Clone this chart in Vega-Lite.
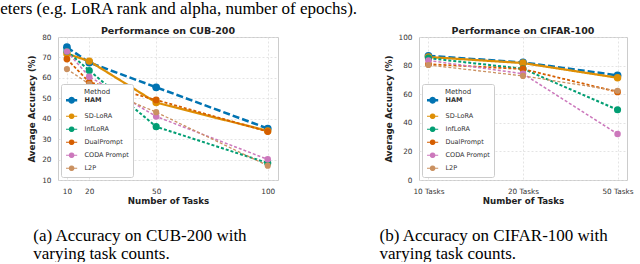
{
  "$schema": "https://vega.github.io/schema/vega-lite/v6.json",
  "padding": {"left": 0, "top": 0, "right": 0, "bottom": 0},
  "background": "white",
  "title": {"text": "eters (e.g. LoRA rank and alpha, number of epochs).", "anchor": "start", "dx": -27, "font": "Liberation Serif", "fontSize": 17, "fontWeight": "normal", "color": "black", "offset": 7},
  "datasets": {
    "cub": [
      {"Method": "HAM", "Tasks": 10, "Acc": 75.0}, {"Method": "HAM", "Tasks": 20, "Acc": 67.5}, {"Method": "HAM", "Tasks": 50, "Acc": 55.4}, {"Method": "HAM", "Tasks": 100, "Acc": 35.2},
      {"Method": "SD-LoRA", "Tasks": 10, "Acc": 71.8}, {"Method": "SD-LoRA", "Tasks": 20, "Acc": 68.2}, {"Method": "SD-LoRA", "Tasks": 50, "Acc": 47.9}, {"Method": "SD-LoRA", "Tasks": 100, "Acc": 34.0},
      {"Method": "InfLoRA", "Tasks": 10, "Acc": 73.0}, {"Method": "InfLoRA", "Tasks": 20, "Acc": 63.6}, {"Method": "InfLoRA", "Tasks": 50, "Acc": 36.1}, {"Method": "InfLoRA", "Tasks": 100, "Acc": 18.3},
      {"Method": "DualPrompt", "Tasks": 10, "Acc": 69.2}, {"Method": "DualPrompt", "Tasks": 20, "Acc": 57.9}, {"Method": "DualPrompt", "Tasks": 50, "Acc": 49.2}, {"Method": "DualPrompt", "Tasks": 100, "Acc": 33.7},
      {"Method": "CODA Prompt", "Tasks": 10, "Acc": 72.9}, {"Method": "CODA Prompt", "Tasks": 20, "Acc": 60.6}, {"Method": "CODA Prompt", "Tasks": 50, "Acc": 41.1}, {"Method": "CODA Prompt", "Tasks": 100, "Acc": 20.1},
      {"Method": "L2P", "Tasks": 10, "Acc": 64.3}, {"Method": "L2P", "Tasks": 20, "Acc": 57.0}, {"Method": "L2P", "Tasks": 50, "Acc": 43.2}, {"Method": "L2P", "Tasks": 100, "Acc": 17.0}
    ],
    "cifar": [
      {"Method": "HAM", "Tasks": "10 Tasks", "Acc": 86.8}, {"Method": "HAM", "Tasks": "20 Tasks", "Acc": 82.2}, {"Method": "HAM", "Tasks": "50 Tasks", "Acc": 73.2},
      {"Method": "SD-LoRA", "Tasks": "10 Tasks", "Acc": 86.0}, {"Method": "SD-LoRA", "Tasks": "20 Tasks", "Acc": 81.8}, {"Method": "SD-LoRA", "Tasks": "50 Tasks", "Acc": 71.5},
      {"Method": "InfLoRA", "Tasks": "10 Tasks", "Acc": 85.2}, {"Method": "InfLoRA", "Tasks": "20 Tasks", "Acc": 77.8}, {"Method": "InfLoRA", "Tasks": "50 Tasks", "Acc": 49.1},
      {"Method": "DualPrompt", "Tasks": "10 Tasks", "Acc": 81.0}, {"Method": "DualPrompt", "Tasks": "20 Tasks", "Acc": 77.6}, {"Method": "DualPrompt", "Tasks": "50 Tasks", "Acc": 61.6},
      {"Method": "CODA Prompt", "Tasks": "10 Tasks", "Acc": 83.6}, {"Method": "CODA Prompt", "Tasks": "20 Tasks", "Acc": 74.3}, {"Method": "CODA Prompt", "Tasks": "50 Tasks", "Acc": 32.2},
      {"Method": "L2P", "Tasks": "10 Tasks", "Acc": 80.4}, {"Method": "L2P", "Tasks": "20 Tasks", "Acc": 72.8}, {"Method": "L2P", "Tasks": "50 Tasks", "Acc": 62.4}
    ]
  },
  "spacing": 100,
  "hconcat": [
    {
      "title": {"text": ["(a) Accuracy on CUB-200 with", "varying task counts."], "orient": "bottom", "anchor": "start", "dx": 6, "offset": 22, "font": "Liberation Serif", "fontSize": 17, "fontWeight": "normal", "color": "black", "lineHeight": 18},
      "resolve": {"legend": {"color": "independent"}},
      "vconcat": [
        {
          "width": 220, "height": 143,
          "title": {"text": "Performance on CUB-200", "font": "DejaVu Sans", "fontSize": 9.5, "fontWeight": "bold", "color": "#222222", "offset": -2},
          "data": {"name": "cub"},
          "encoding": {
            "x": {"field": "Tasks", "type": "quantitative", "scale": {"domain": [6, 104.6], "nice": false, "zero": false},
                  "axis": {"values": [10, 20, 50, 100], "title": "Number of Tasks", "titlePadding": 2}},
            "y": {"field": "Acc", "type": "quantitative", "scale": {"domain": [10, 80], "nice": false, "zero": false},
                  "axis": {"values": [10, 20, 30, 40, 50, 60, 70, 80], "title": "Average Accuracy (%)", "titlePadding": 5}},
            "color": {"field": "Method", "type": "nominal",
                      "scale": {"domain": ["HAM", "SD-LoRA", "InfLoRA", "DualPrompt", "CODA Prompt", "L2P"], "range": ["#0173b2", "#de8f05", "#029e73", "#d55e00", "#cc78bc", "#ca9161"]},
                      "legend": {"title": "Method", "orient": "bottom-left", "offset": 3,
                                 "encode": {"labels": {"update": {"fontWeight": {"signal": "datum.value === 'HAM' ? 'bold' : 'normal'"}}},
                                            "symbols": {"update": {"size": {"value": 20}, "fill": {"scale": "color", "field": "value"}, "stroke": {"scale": "color", "field": "value"}, "strokeWidth": {"signal": "datum.value === 'HAM' ? 2.3 : 1.2"}}}}}}
          },
          "layer": [
            {"mark": {"type": "line"},
             "encoding": {
               "strokeDash": {"field": "Method", "type": "nominal", "legend": null, "scale": {"domain": ["HAM", "SD-LoRA", "InfLoRA", "DualPrompt", "CODA Prompt", "L2P"], "range": [[7, 3], [1, 0], [3, 2], [3, 2], [3, 2], [3, 2]]}},
               "strokeWidth": {"field": "Method", "type": "nominal", "legend": null, "scale": {"domain": ["HAM", "SD-LoRA", "InfLoRA", "DualPrompt", "CODA Prompt", "L2P"], "range": [2.5, 1.3, 1.3, 1.3, 1.3, 1.3]}}
             }},
            {"mark": {"type": "point", "filled": true, "opacity": 1},
             "encoding": {
               "size": {"field": "Method", "type": "nominal", "legend": null, "scale": {"domain": ["HAM", "SD-LoRA", "InfLoRA", "DualPrompt", "CODA Prompt", "L2P"], "range": [60, 38, 38, 38, 38, 38]}}
             }}
          ]
        }
      ]
    },
    {
      "title": {"text": ["(b) Accuracy on CIFAR-100 with", "varying task counts."], "orient": "bottom", "anchor": "start", "dx": -4, "offset": 22, "font": "Liberation Serif", "fontSize": 17, "fontWeight": "normal", "color": "black", "lineHeight": 18},
      "resolve": {"legend": {"color": "independent"}},
      "vconcat": [
        {
          "width": 208, "height": 143,
          "title": {"text": "Performance on CIFAR-100", "font": "DejaVu Sans", "fontSize": 9.5, "fontWeight": "bold", "color": "#222222", "offset": -2},
          "data": {"name": "cifar"},
          "encoding": {
            "x": {"field": "Tasks", "type": "ordinal", "scale": {"type": "point", "padding": 0.1},
                  "axis": {"title": "Number of Tasks", "labelAngle": 0, "titlePadding": 2}},
            "y": {"field": "Acc", "type": "quantitative", "scale": {"domain": [0, 100], "nice": false},
                  "axis": {"values": [0, 20, 40, 60, 80, 100], "title": "Average Accuracy (%)", "titlePadding": 5}},
            "color": {"field": "Method", "type": "nominal",
                      "scale": {"domain": ["HAM", "SD-LoRA", "InfLoRA", "DualPrompt", "CODA Prompt", "L2P"], "range": ["#0173b2", "#de8f05", "#029e73", "#d55e00", "#cc78bc", "#ca9161"]},
                      "legend": {"title": "Method", "orient": "bottom-left", "offset": 3,
                                 "encode": {"labels": {"update": {"fontWeight": {"signal": "datum.value === 'HAM' ? 'bold' : 'normal'"}}},
                                            "symbols": {"update": {"size": {"value": 20}, "fill": {"scale": "color", "field": "value"}, "stroke": {"scale": "color", "field": "value"}, "strokeWidth": {"signal": "datum.value === 'HAM' ? 2.3 : 1.2"}}}}}}
          },
          "layer": [
            {"mark": {"type": "line"},
             "encoding": {
               "strokeDash": {"field": "Method", "type": "nominal", "legend": null, "scale": {"domain": ["HAM", "SD-LoRA", "InfLoRA", "DualPrompt", "CODA Prompt", "L2P"], "range": [[7, 3], [1, 0], [3, 2], [3, 2], [3, 2], [3, 2]]}},
               "strokeWidth": {"field": "Method", "type": "nominal", "legend": null, "scale": {"domain": ["HAM", "SD-LoRA", "InfLoRA", "DualPrompt", "CODA Prompt", "L2P"], "range": [2.5, 1.3, 1.3, 1.3, 1.3, 1.3]}}
             }},
            {"mark": {"type": "point", "filled": true, "opacity": 1},
             "encoding": {
               "size": {"field": "Method", "type": "nominal", "legend": null, "scale": {"domain": ["HAM", "SD-LoRA", "InfLoRA", "DualPrompt", "CODA Prompt", "L2P"], "range": [60, 38, 38, 38, 38, 38]}}
             }}
          ]
        }
      ]
    }
  ],
  "resolve": {"scale": {"color": "independent", "strokeDash": "independent", "strokeWidth": "independent", "size": "independent", "x": "independent", "y": "independent"}, "legend": {"color": "independent"}},
  "config": {
    "font": "DejaVu Sans",
    "view": {"stroke": "#cccccc", "strokeWidth": 1},
    "axis": {
      "domain": false, "ticks": false,
      "grid": true, "gridColor": "#dddddd", "gridDash": [2, 2], "gridWidth": 0.8,
      "labelFont": "DejaVu Sans", "labelFontSize": 7.3, "labelColor": "#333333", "labelPadding": 7,
      "titleFont": "DejaVu Sans", "titleFontSize": 8.7, "titleFontWeight": "bold", "titleColor": "#222222"
    },
    "legend": {
      "titleFont": "DejaVu Sans", "titleFontSize": 7, "titleFontWeight": "normal", "titleColor": "#333333", "titleAnchor": "middle", "titlePadding": 2,
      "labelFont": "DejaVu Sans", "labelFontSize": 6.5, "labelColor": "#333333", "labelOffset": 13,
      "symbolType": "M-1,0L4,0M2.5,0L2.366,0.5L2,0.866L1.5,1L1,0.866L0.634,0.5L0.5,0L0.634,-0.5L1,-0.866L1.5,-1L2,-0.866L2.366,-0.5Z",
      "symbolSize": 20, "rowPadding": 3, "padding": 4, "strokeColor": "#cccccc", "fillColor": "white", "cornerRadius": 2,
      "symbolOpacity": 1
    },
    "title": {"anchor": "middle"}
  }
}
